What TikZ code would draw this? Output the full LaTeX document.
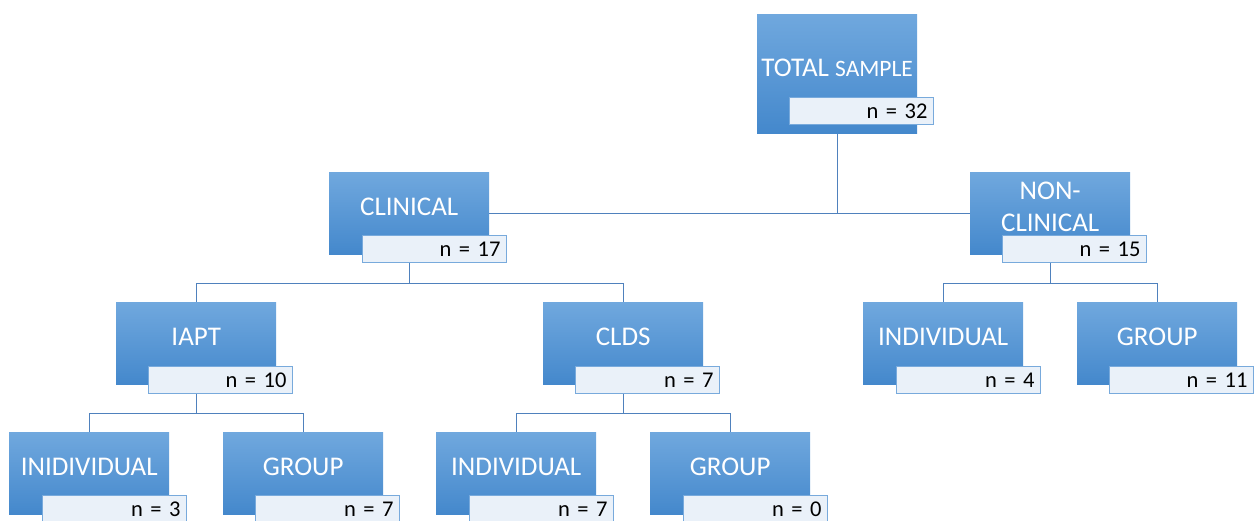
\documentclass[tikz,border=0pt]{standalone}
\usepackage{fontspec}
\setmainfont{Carlito}
\usetikzlibrary{backgrounds}
\definecolor{btop}{RGB}{112,168,222}
\definecolor{bbot}{RGB}{68,136,204}
\definecolor{nfill}{RGB}{234,241,249}
\definecolor{ndraw}{RGB}{120,170,220}
\definecolor{lineblue}{RGB}{79,129,189}
\tikzset{
  mainbox/.style={anchor=north west, minimum width=160pt, minimum height=82pt, inner sep=0pt, top color=btop, bottom color=bbot, draw=none},
  maintext/.style={text=white, font=\fontsize{27}{32}\selectfont, align=center, inner sep=0pt},
  nbox/.style={anchor=north west, minimum width=144pt, minimum height=27pt, text width=132pt, align=right, inner xsep=6pt, inner ysep=0pt, fill=nfill, draw=ndraw, line width=1pt, font=\fontsize{22.5}{25}\selectfont},
  conn/.style={draw=lineblue, line width=1pt}
}
\newcommand\orgbox[8]{%
  \node[mainbox, minimum height=#4pt] (#1) at (#2,#3) {};
  \node[maintext] (#1-t) at ([yshift=6pt]#1.center) {#5};
  \node[nbox] (#1-n) at (#6,#7) {#8};
}
\begin{document}
\begin{tikzpicture}[x=1pt,y=-1pt]
\useasboundingbox (0,0) rectangle (1258,520);
\clip (0,0) rectangle (1258,520);
\orgbox{total}{757}{14}{119}{\fontsize{27}{31}\selectfont TOTAL \fontsize{23.5}{27}\selectfont SAMPLE}{789}{97}{n = 32}
\orgbox{clin}{329}{172}{82}{CLINICAL}{362}{235}{n = 17}
\orgbox{nonclin}{970}{172}{82}{NON-\\CLINICAL}{1002}{235}{n = 15}
\orgbox{iapt}{116}{302}{82}{IAPT}{148}{366}{n = 10}
\orgbox{clds}{543}{302}{82}{CLDS}{575}{366}{n = 7}
\orgbox{ncind}{863}{302}{82}{INDIVIDUAL}{896}{366}{n = 4}
\orgbox{ncgrp}{1077}{302}{82}{GROUP}{1109}{366}{n = 11}
\orgbox{iind}{9}{432}{82}{INIDIVIDUAL}{42}{495}{n = 3}
\orgbox{igrp}{223}{432}{82}{GROUP}{255}{495}{n = 7}
\orgbox{cind}{436}{432}{82}{INDIVIDUAL}{469}{495}{n = 7}
\orgbox{cgrp}{650}{432}{82}{GROUP}{683}{495}{n = 0}
\begin{scope}[on background layer]
  \draw[conn] (total.south) -- (total.south |- clin.east);
  \draw[conn] (clin.east) -- (nonclin.west);
  \draw[conn] (clin.south) -- ++(0,29) -| (iapt.north);
  \draw[conn] (clin.south) -- ++(0,29) -| (clds.north);
  \draw[conn] (nonclin.south) -- ++(0,29) -| (ncind.north);
  \draw[conn] (nonclin.south) -- ++(0,29) -| (ncgrp.north);
  \draw[conn] (iapt.south) -- ++(0,29) -| (iind.north);
  \draw[conn] (iapt.south) -- ++(0,29) -| (igrp.north);
  \draw[conn] (clds.south) -- ++(0,29) -| (cind.north);
  \draw[conn] (clds.south) -- ++(0,29) -| (cgrp.north);
\end{scope}
\end{tikzpicture}
\end{document}
